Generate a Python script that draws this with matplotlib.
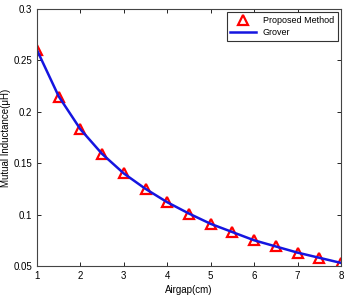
import matplotlib
matplotlib.use("Agg")
from matplotlib import pyplot as plt

airgap = [1, 1.5, 2, 2.5, 3, 3.5, 4, 4.5, 5, 5.5, 6, 6.5, 7, 7.5, 8]
proposed = [0.260, 0.214, 0.183, 0.159, 0.140, 0.125, 0.112, 0.101, 0.091,
            0.083, 0.075, 0.069, 0.063, 0.058, 0.053]
grover = [0.260, 0.215, 0.183, 0.159, 0.140, 0.125, 0.112, 0.101, 0.091,
          0.083, 0.075, 0.069, 0.063, 0.058, 0.053]

plt.rcParams['font.family'] = ['Liberation Sans', 'DejaVu Sans']

fig = plt.figure(figsize=(3.5, 2.97), dpi=100)
ax = fig.add_axes([37 / 350, 1 - 266 / 297, (341 - 37) / 350, (266 - 9) / 297])

ax.plot(airgap, proposed, linestyle="none", marker="^", markersize=6.5,
        markerfacecolor="none", markeredgecolor="red", markeredgewidth=1.6,
        label="Proposed Method")
ax.plot(airgap, grover, color="#1515e0", linewidth=1.8, label="Grover")

ax.set_xlim(1, 8)
ax.set_ylim(0.05, 0.3)
ax.set_xticks(range(1, 9))
ax.set_yticks([0.05, 0.1, 0.15, 0.2, 0.25, 0.3])
ax.set_yticklabels(["0.05", "0.1", "0.15", "0.2", "0.25", "0.3"])
ax.tick_params(direction="in", top=True, right=True, labelsize=7, length=3, width=0.6)
for s in ax.spines.values():
    s.set_linewidth(0.8)
    s.set_color("#444444")

ax.set_xlabel("Airgap(cm)", fontsize=7, labelpad=3)
ax.set_ylabel("Mutual Inductance(\u03bcH)", fontsize=7, labelpad=2)

leg = ax.legend(loc="upper right", fontsize=6.5, fancybox=False, framealpha=1,
                borderaxespad=0.35, handlelength=2.8, borderpad=0.4, labelspacing=0.35)
leg.get_frame().set_edgecolor("#333333")
leg.get_frame().set_linewidth(0.8)

fig.savefig("out.png", dpi=100)
